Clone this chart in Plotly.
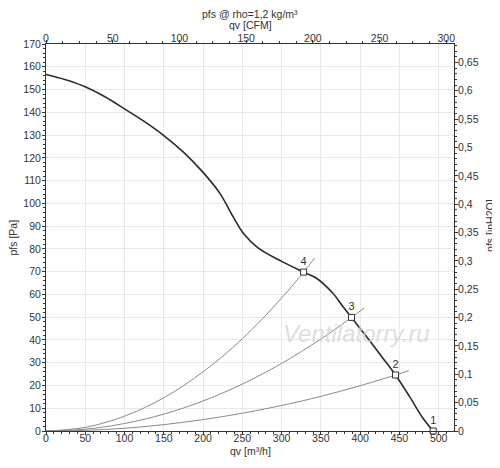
import plotly.graph_objects as go

# fan curve pfs [Pa] vs qv [m3/h]
fan_q = [0, 25, 50, 75, 100, 125, 150, 175, 200, 221, 238, 251, 270, 300, 328, 344, 365, 378, 389, 408, 429, 445, 463, 480, 493]
fan_p = [156.6, 154.3, 151.2, 146.8, 141.5, 136.0, 129.8, 122.5, 113.6, 104.6, 94.3, 87.0, 80.4, 74.5, 69.8, 67.2, 60.6, 54.7, 49.9, 41.5, 32.0, 24.6, 15.1, 5.6, 0.0]

# system curves
sys4_q = [0, 50, 100, 150, 200, 250, 300, 328, 342]
sys4_p = [0, 1.6, 6.5, 14.6, 26.0, 40.5, 58.4, 69.8, 76.0]
sys3_q = [0, 50, 100, 150, 200, 250, 300, 350, 389, 405]
sys3_p = [0, 0.8, 3.3, 7.4, 13.2, 20.6, 29.7, 40.4, 49.9, 54.0]
sys2_q = [0, 50, 100, 150, 200, 250, 300, 350, 400, 445, 462]
sys2_p = [0, 0.3, 1.2, 2.8, 5.0, 7.8, 11.2, 15.2, 19.9, 24.6, 26.5]

# operating points
op_q = [493, 445, 389, 328]
op_p = [0.0, 24.6, 49.9, 69.8]
op_labels = ["1", "2", "3", "4"]

Q_MAX = 519.5            # m3/h
P_MAX = 170              # Pa
CFM = 1.699              # m3/h per CFM
INH2O = 249.09           # Pa per inH2O

FONT = "Liberation Sans, Arial, sans-serif"
AXC = "#333333"

fig = go.Figure()

for q, p in [(sys4_q, sys4_p), (sys3_q, sys3_p), (sys2_q, sys2_p)]:
    fig.add_trace(go.Scatter(x=q, y=p, mode="lines", line=dict(color="#8a8a8a", width=1, shape="spline"),
                             hoverinfo="skip"))

fig.add_trace(go.Scatter(x=fan_q, y=fan_p, mode="lines",
                         line=dict(color="#2a2a2a", width=1.6, shape="spline", smoothing=1.0)))

fig.add_trace(go.Scatter(x=op_q, y=op_p, mode="markers+text", text=op_labels,
                         textposition="top center", textfont=dict(size=11, color=AXC, family=FONT),
                         marker=dict(symbol="square", size=6, color="white", line=dict(color=AXC, width=1)),
                         cliponaxis=False))

tick_font = dict(size=10.5, color=AXC, family=FONT)

# page body adds an 8px offset, so the figure is 8px smaller and margins shifted
fig.update_layout(
    width=492, height=460,
    margin=dict(l=38, r=46, t=36, b=37),
    paper_bgcolor="white", plot_bgcolor="white",
    showlegend=False,
    separators=",.",
    font=dict(family=FONT, size=11, color=AXC),
    xaxis=dict(range=[0, Q_MAX], dtick=50, tick0=0, showgrid=True, gridcolor="#e8e8e8",
               showline=True, linecolor=AXC, ticks="outside", ticklen=3, tickcolor=AXC,
               minor=dict(dtick=10, ticks="outside", ticklen=2, tickcolor=AXC),
               ticklabelstandoff=-6,
               tickfont=tick_font, zeroline=False, automargin=False),
    yaxis=dict(range=[0, P_MAX], dtick=10, tick0=0, showgrid=True, gridcolor="#e8e8e8",
               showline=True, linecolor=AXC, ticks="outside", ticklen=3, tickcolor=AXC,
               minor=dict(dtick=2, ticks="outside", ticklen=2, tickcolor=AXC),
               ticklabelstandoff=-1,
               tickfont=tick_font, zeroline=False, automargin=False),
    xaxis2=dict(range=[0, Q_MAX / CFM], dtick=50, tick0=0, overlaying="x", side="top",
                showgrid=False, showline=True, linecolor=AXC, ticks="outside", ticklen=3, tickcolor=AXC,
                minor=dict(dtick=12.5, ticks="outside", ticklen=2, tickcolor=AXC),
                ticklabelstandoff=-6,
                tickfont=tick_font, zeroline=False, automargin=False),
    yaxis2=dict(range=[0, P_MAX / INH2O], dtick=0.05, tick0=0, overlaying="y", side="right",
                showgrid=False, showline=True, linecolor=AXC, ticks="outside", ticklen=3, tickcolor=AXC,
                minor=dict(dtick=0.01, ticks="outside", ticklen=2, tickcolor=AXC),
                ticklabelstandoff=-2,
                tickfont=tick_font, zeroline=False, automargin=False),
)

# invisible trace so the secondary axes are drawn
fig.add_trace(go.Scatter(x=[None], y=[None], xaxis="x2", yaxis="y2", showlegend=False, hoverinfo="skip"))

anns = [
    dict(text="pfs @ rho=1,2 kg/m³", x=0.5, y=1, yshift=30, yanchor="middle"),
    dict(text="qv [CFM]", x=0.5, y=1, yshift=19, yanchor="middle"),
    dict(text="qv [m³/h]", x=0.5, y=0, yshift=-20, yanchor="middle"),
    dict(text="pfs [Pa]", x=0, y=0.5, xshift=-34, xanchor="center", textangle=-90),
    dict(text="pfs [inH2O]", x=1, y=0.53, xshift=36, xanchor="center", textangle=-90),
]
for a in anns:
    fig.add_annotation(xref="paper", yref="paper", showarrow=False,
                       font=dict(size=10.5, color=AXC, family=FONT), **a)

fig.add_annotation(text="Ventilatorry.ru", xref="paper", yref="paper", x=0.76, y=0.253,
                   xanchor="center", yanchor="middle", showarrow=False,
                   font=dict(size=24, color="rgba(212,212,212,0.75)", family=FONT, style="italic"))

fig.write_html("out.html")
